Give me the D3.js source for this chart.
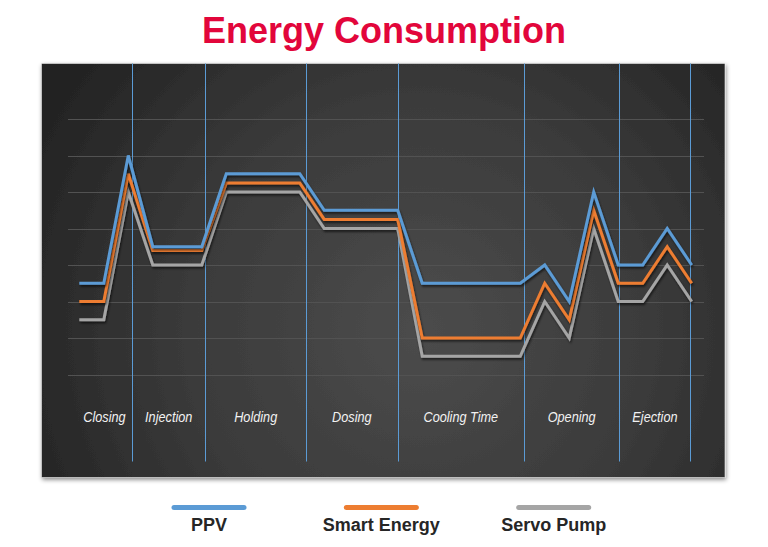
<!DOCTYPE html>
<html>
<head>
<meta charset="utf-8">
<script src="https://cdn.jsdelivr.net/npm/d3@7"></script>
<style>
  html, body { margin: 0; padding: 0; background: #ffffff; }
  svg { display: block; }
</style>
</head>
<body>
<svg id="chart" width="768" height="547"></svg>
<script>
// ---------------- DATA ----------------
const title = "Energy Consumption";
const steps = d3.range(26); // time steps along the cycle
const seriesNames = ["PPV", "Smart Energy", "Servo Pump"];
const ppv    = [2.5,2.5,6,3.5,3.5,3.5,5.5,5.5,5.5,5.5,4.5,4.5,4.5,4.5,2.5,2.5,2.5,2.5,2.5,3,2,5,3,3,4,3];
const smart  = [2,2,5.5,3.4,3.4,3.4,5.25,5.25,5.25,5.25,4.25,4.25,4.25,4.25,1,1,1,1,1,2.5,1.5,4.5,2.5,2.5,3.5,2.5];
const servo  = [1.5,1.5,5,3,3,3,5,5,5,5,4,4,4,4,0.5,0.5,0.5,0.5,0.5,2,1,4,2,2,3,2];
const phaseLabels = ["Closing","Injection","Holding","Dosing","Cooling Time","Opening","Ejection"];
const phaseBounds = [2.15,5.15,9.25,13,18.15,22.05,24.95]; // in step units
const phaseStart = -0.1;
const gridTicks = d3.range(0, 8);

// ---------------- LAYOUT ----------------
const W = 768, H = 547;
const panel = {x: 41.5, y: 63.5, w: 683.5, h: 414};
const colors = {"PPV": "#5b9bd5", "Smart Energy": "#ed7d31", "Servo Pump": "#a5a5a5"};
const seriesData = {"PPV": ppv, "Smart Energy": smart, "Servo Pump": servo};

const svg = d3.select("#chart");
const defs = svg.append("defs");

const rg = defs.append("radialGradient").attr("id", "bg")
  .attr("gradientUnits", "userSpaceOnUse")
  .attr("cx", 420).attr("cy", 330).attr("r", 430)
  .attr("fx", 420).attr("fy", 330);
rg.append("stop").attr("offset", "0%").attr("stop-color", "#4c4c4c");
rg.append("stop").attr("offset", "55%").attr("stop-color", "#3a3a3a");
rg.append("stop").attr("offset", "100%").attr("stop-color", "#232323");

const sh = defs.append("filter").attr("id", "panelShadow")
  .attr("x", "-5%").attr("y", "-5%").attr("width", "110%").attr("height", "110%");
sh.append("feDropShadow").attr("dx", 1).attr("dy", 2).attr("stdDeviation", 2)
  .attr("flood-color", "#000").attr("flood-opacity", 0.45);

const lsh = defs.append("filter").attr("id", "lineShadow")
  .attr("x", "-10%").attr("y", "-10%").attr("width", "120%").attr("height", "120%");
lsh.append("feDropShadow").attr("dx", 1).attr("dy", 2).attr("stdDeviation", 1.2)
  .attr("flood-color", "#000").attr("flood-opacity", 0.6);

// Title
svg.append("text")
  .attr("x", W / 2).attr("y", 42.5)
  .attr("text-anchor", "middle")
  .attr("font-family", "Liberation Sans, Arial, sans-serif")
  .attr("font-weight", "bold")
  .attr("font-size", 36)
  .attr("fill", "#e2063b")
  .text(title);

// Panel
svg.append("rect")
  .attr("x", panel.x).attr("y", panel.y)
  .attr("width", panel.w).attr("height", panel.h)
  .attr("fill", "url(#bg)")
  .attr("stroke", "#e8e8e8").attr("stroke-width", 0.6)
  .attr("filter", "url(#panelShadow)");

// Scales
const x = d3.scaleLinear().domain([0, 25]).range([79.3, 691.7]);
const y = d3.scaleLinear().domain([0, 7]).range([374.5, 119]);

// Gridlines
svg.append("g").selectAll("line").data(gridTicks).join("line")
  .attr("x1", 68).attr("x2", 704)
  .attr("y1", d => Math.round(y(d)) + 0.5).attr("y2", d => Math.round(y(d)) + 0.5)
  .attr("stroke", "#525252").attr("stroke-width", 1);

// Phase boundaries
svg.append("g").selectAll("line").data(phaseBounds).join("line")
  .attr("x1", d => Math.round(x(d)) + 0.5).attr("x2", d => Math.round(x(d)) + 0.5)
  .attr("y1", panel.y).attr("y2", 461.5)
  .attr("stroke", "#5b9bd5").attr("stroke-width", 1);

// Series lines
const line = d3.line().x((d, i) => x(steps[i])).y(d => y(d));
const order = ["Servo Pump", "Smart Energy", "PPV"];
svg.append("g").selectAll("path").data(order).join("path")
  .attr("d", n => line(seriesData[n]))
  .attr("fill", "none")
  .attr("stroke", n => colors[n])
  .attr("stroke-width", 3)
  .attr("stroke-linejoin", "miter")
  .attr("filter", "url(#lineShadow)");

// Phase labels
const starts = [phaseStart].concat(phaseBounds.slice(0, -1));
svg.append("g").selectAll("text").data(phaseLabels).join("text")
  .attr("transform", (d, i) => `translate(${x((starts[i] + phaseBounds[i]) / 2)},422) scale(0.82,1)`)
  .attr("text-anchor", "middle")
  .attr("font-family", "Liberation Sans, Arial, sans-serif")
  .attr("font-style", "italic")
  .attr("font-size", 15.5)
  .attr("fill", "#f2f2f2")
  .text(d => d);

// Legend
const legendCenters = d3.scalePoint().domain(seriesNames).range([209, 553.7]);
const lg = svg.append("g").selectAll("g").data(seriesNames).join("g")
  .attr("transform", d => `translate(${legendCenters(d)},0)`);
lg.append("line")
  .attr("x1", -35).attr("x2", 35)
  .attr("y1", 507.5).attr("y2", 507.5)
  .attr("stroke", d => colors[d])
  .attr("stroke-width", 5)
  .attr("stroke-linecap", "round");
lg.append("text")
  .attr("x", 0).attr("y", 531)
  .attr("text-anchor", "middle")
  .attr("font-family", "Liberation Sans, Arial, sans-serif")
  .attr("font-weight", "bold")
  .attr("font-size", 18)
  .attr("fill", "#262626")
  .text(d => d);
</script>
</body>
</html>
